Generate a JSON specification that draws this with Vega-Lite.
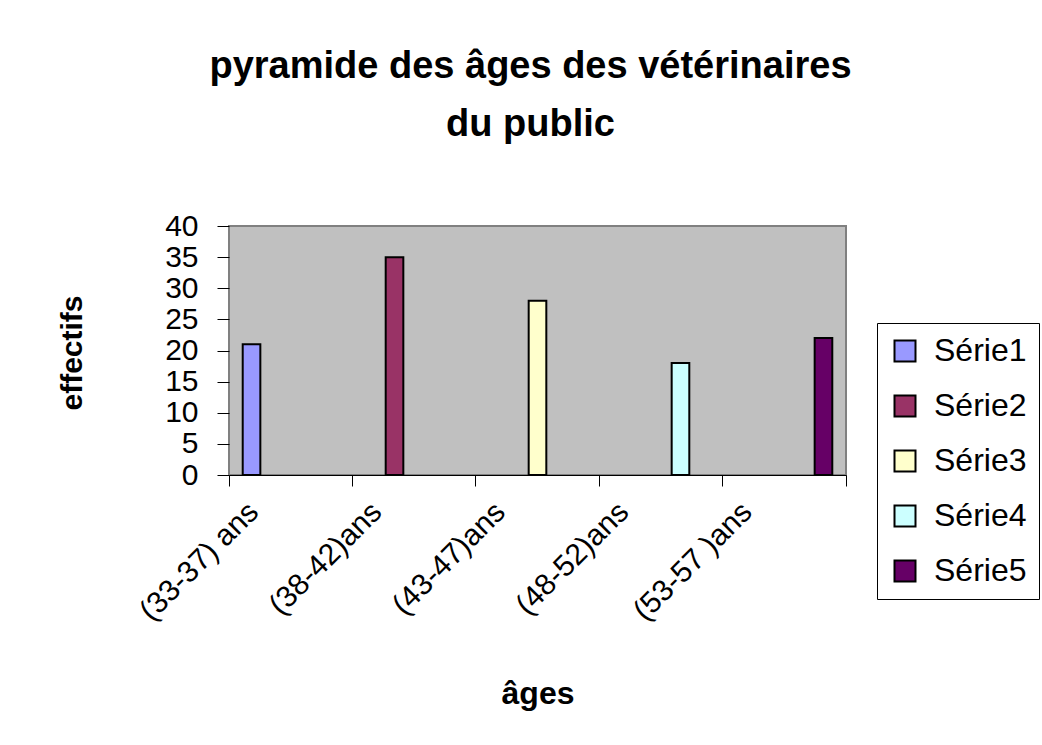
{
  "$schema": "https://vega.github.io/schema/vega-lite/v6.json",
  "width": 617,
  "height": 249,
  "autosize": {"type": "none"},
  "padding": {"left": 229, "top": 226, "right": 196, "bottom": 270},
  "background": "white",
  "title": {
    "text": ["pyramide des âges des vétérinaires", "du public"],
    "font": "Liberation Sans",
    "fontSize": 38,
    "fontWeight": "bold",
    "color": "black",
    "lineHeight": 58,
    "anchor": "middle",
    "frame": "group",
    "baseline": "alphabetic",
    "dx": -7,
    "offset": 37
  },
  "data": {
    "values": [
      {"age": "(33-37) ans", "serie": "Série1", "effectif": 21},
      {"age": "(38-42)ans", "serie": "Série2", "effectif": 35},
      {"age": "(43-47)ans", "serie": "Série3", "effectif": 28},
      {"age": "(48-52)ans", "serie": "Série4", "effectif": 18},
      {"age": "(53-57 )ans", "serie": "Série5", "effectif": 22}
    ]
  },
  "mark": {"type": "bar", "stroke": "black", "strokeWidth": 2, "opacity": 1, "fillOpacity": 1},
  "encoding": {
    "x": {
      "field": "age",
      "type": "nominal",
      "sort": null,
      "title": "âges",
      "scale": {"paddingInner": 0, "paddingOuter": 0},
      "axis": {
        "bandPosition": 1,
        "tickExtra": true,
        "ticks": true,
        "tickSize": 11,
        "tickColor": "black",
        "tickWidth": 1,
        "domain": true,
        "domainColor": "black",
        "domainWidth": 1,
        "grid": false,
        "labelAngle": -45,
        "labelAlign": "right",
        "labelBaseline": "middle",
        "labelOffset": -37,
        "labelPadding": 21,
        "labelFont": "Liberation Sans",
        "labelFontSize": 30,
        "labelColor": "black",
        "labelLimit": 400,
        "labelOverlap": false,
        "titleFont": "Liberation Sans",
        "titleFontSize": 32,
        "titleFontWeight": "bold",
        "titleColor": "black",
        "titleX": 308.5,
        "titleY": 228,
        "titleBaseline": "alphabetic",
        "titleAlign": "center"
      }
    },
    "xOffset": {
      "field": "serie",
      "type": "nominal",
      "scale": {"paddingInner": 0.1, "paddingOuter": 0.7}
    },
    "y": {
      "field": "effectif",
      "type": "quantitative",
      "title": "effectifs",
      "scale": {"domain": [0, 40], "nice": false},
      "axis": {
        "values": [0, 5, 10, 15, 20, 25, 30, 35, 40],
        "grid": false,
        "domain": false,
        "ticks": true,
        "tickSize": 12,
        "tickColor": "black",
        "tickWidth": 1,
        "labelPadding": 19,
        "labelFont": "Liberation Sans",
        "labelFontSize": 30,
        "labelColor": "black",
        "labelOverlap": false,
        "labelBound": false,
        "labelFlush": false,
        "titleFont": "Liberation Sans",
        "titleFontSize": 30,
        "titleFontWeight": "bold",
        "titleColor": "black",
        "titleAngle": -90,
        "titleX": -157,
        "titleY": 126.5,
        "titleBaseline": "middle",
        "titleAlign": "center"
      }
    },
    "color": {
      "field": "serie",
      "type": "nominal",
      "scale": {
        "domain": ["Série1", "Série2", "Série3", "Série4", "Série5"],
        "range": ["#9999FF", "#993366", "#FFFFCC", "#CCFFFF", "#660066"]
      },
      "legend": {
        "title": null,
        "orient": "none",
        "legendX": 648,
        "legendY": 97,
        "symbolType": "square",
        "symbolSize": 441,
        "symbolStrokeColor": "black",
        "symbolStrokeWidth": 2,
        "symbolOpacity": 1,
        "labelFont": "Liberation Sans",
        "labelFontSize": 32,
        "labelColor": "black",
        "labelOffset": 13,
        "rowPadding": 23,
        "padding": 12,
        "strokeColor": "black",
        "fillColor": "white",
        "cornerRadius": 0
      }
    }
  },
  "config": {
    "font": "Liberation Sans",
    "view": {"fill": "#C0C0C0", "stroke": "#808080", "strokeWidth": 2}
  }
}
